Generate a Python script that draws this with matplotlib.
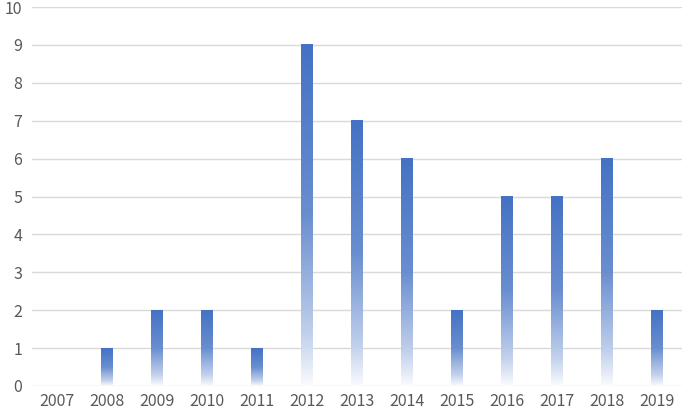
import matplotlib
matplotlib.use("Agg")
import matplotlib.pyplot as plt
import numpy as np
from matplotlib.colors import to_rgb

plt.rcParams['font.family'] = ['Noto Sans CJK SC', 'DejaVu Sans']

years = ['2007', '2008', '2009', '2010', '2011', '2012', '2013',
         '2014', '2015', '2016', '2017', '2018', '2019']
counts = [0, 1, 2, 2, 1, 9, 7, 6, 2, 5, 5, 6, 2]

fig = plt.figure(figsize=(6.85, 4.13), dpi=100)
ax = fig.add_axes([32 / 685, 27 / 413, 650 / 685, 379 / 413])

x = np.arange(len(years))
bars = ax.bar(x, counts, width=0.23, color='none', zorder=3)

# vertical fade: solid blue at the top of each bar, almost white at the bottom
base = np.array(to_rgb('#4472C4'))
t = np.linspace(0, 1, 256)[:, None]
alpha = np.interp(t, [0, 0.15, 0.5, 1], [0.03, 0.33, 0.8, 1.0])
grad = alpha[..., None] * base + (1 - alpha[..., None]) * 1.0
grad = np.repeat(grad, 2, axis=1)

for b in bars:
    h = b.get_height()
    if h <= 0:
        continue
    x0 = b.get_x()
    ax.imshow(grad, extent=[x0, x0 + b.get_width(), 0, h], origin='lower',
              aspect='auto', zorder=3, interpolation='bilinear')

ax.set_xlim(-0.5, len(years) - 0.5)
ax.set_ylim(0, 10)
ax.set_yticks(range(0, 11))
ax.set_xticks(x)
ax.set_xticklabels(years)
ax.grid(axis='y', color='#D9D9D9', linewidth=1, zorder=0)
ax.set_axisbelow(True)
for s in ax.spines.values():
    s.set_visible(False)
ax.tick_params(axis='both', length=0, colors='#595959', labelsize=11.5)
ax.tick_params(axis='y', pad=7)
ax.tick_params(axis='x', pad=5)

fig.savefig('out.png', dpi=100)
